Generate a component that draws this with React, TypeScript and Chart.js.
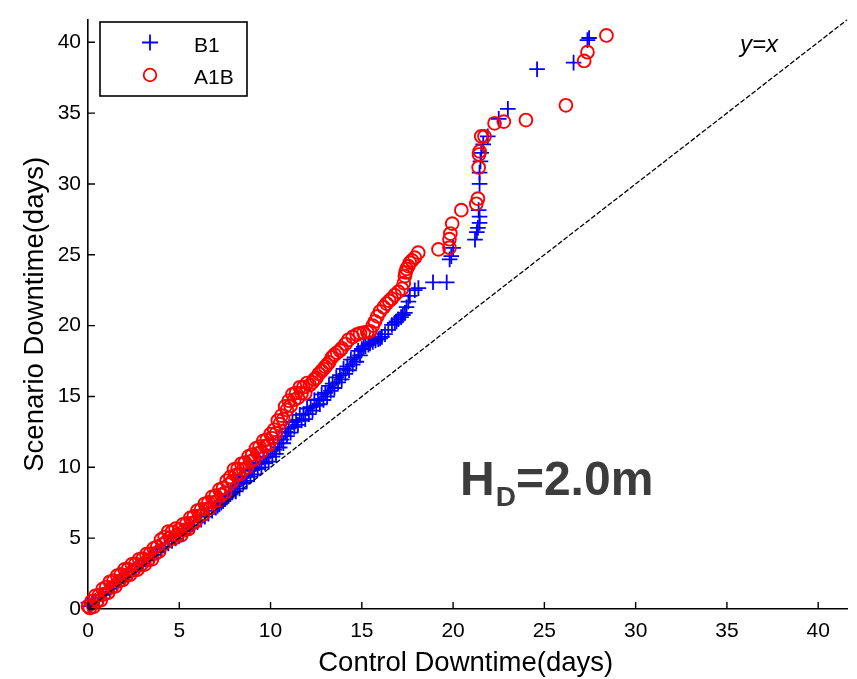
import React, { useEffect, useRef } from "react";
import { Chart, registerables } from "chart.js";

Chart.register(...registerables);

// B1 scenario (blue +)
const b1X = [0.02,0.1,0.2,0.4,0.6,0.8,1.0,1.2,1.4,1.6,1.8,2.0,2.2,2.4,2.6,2.8,3.0,3.2,3.4,3.6,3.8,4.0,4.2,4.4,4.6,4.8,5.0,5.2,5.4,5.6,5.8,6.0,6.2,6.4,6.6,6.8,7.0,
  7.1,7.2,7.3,7.4,7.5,7.6,7.7,7.8,7.9,8.0,8.1,8.2,8.3,8.4,8.5,8.6,8.7,8.8,8.9,9.0,9.1,9.2,9.3,9.4,9.5,9.6,9.7,9.8,9.9,
  10.0,10.1,10.2,10.3,10.4,10.5,10.6,10.7,10.8,10.9,11.0,11.1,11.2,11.3,11.4,11.5,11.6,11.7,11.8,11.9,
  12.0,12.1,12.2,12.3,12.4,12.5,12.6,12.7,12.8,12.9,13.0,13.1,13.2,13.3,13.4,13.5,13.6,13.7,13.8,13.9,
  14.0,14.1,14.2,14.3,14.4,14.5,14.6,14.7,14.8,14.9,15.0,15.1,15.2,15.36,15.45,15.6,15.75,15.9,16.0,16.1,16.27,16.45,16.65,16.8,16.9,17.0,17.15,17.25,17.36,17.45,17.55,17.63,17.9,18.1,
  18.9,19.65,19.81,19.9,20.0,21.2,21.3,21.36,21.45,21.45,21.4,21.45,21.45,21.5,21.54,21.65,21.9,22.5,23.0,24.6,26.6,27.36,27.45];
const b1Y = [0.45,0.2,0.38,0.6,0.8,1.0,1.2,1.42,1.62,1.82,2.02,2.22,2.42,2.62,2.82,3.02,3.22,3.42,3.62,3.82,4.02,4.22,4.42,4.62,4.8,4.98,5.15,5.33,5.52,5.71,5.9,6.12,6.31,6.52,6.72,6.93,7.15,
  7.27,7.38,7.5,7.62,7.75,7.87,7.99,8.1,8.22,8.65,8.3,8.8,8.5,9.25,8.9,9.37,9.05,9.75,9.35,9.82,9.5,10.25,9.9,10.35,10.0,10.7,10.3,10.75,10.4,
  11.12,10.75,11.25,10.95,11.7,11.4,11.95,11.7,12.5,12.2,12.75,12.45,13.2,12.85,13.33,13.0,13.7,13.3,13.75,13.4,
  14.15,13.75,14.25,14.0,14.75,14.35,14.8,14.45,15.15,14.75,15.25,15.0,15.75,15.4,15.9,15.6,16.35,16.0,16.5,16.2,
  16.95,16.6,17.12,16.85,17.6,17.25,17.75,17.45,18.22,17.9,18.35,18.5,18.55,18.65,18.75,18.85,18.95,19.05,19.1,19.2,19.4,19.7,20.05,20.2,20.3,20.45,20.6,20.75,20.9,21.3,21.7,22.1,22.5,22.65,
  23.06,23.06,24.68,24.9,25.49,26.07,26.6,26.9,27.25,27.7,28.15,30.0,30.8,31.6,32.2,32.8,33.36,34.6,35.3,38.1,38.56,40.15,40.3];

// A1B scenario (red o)
const a1bX = [0.0,0.1,0.2,0.3,0.4,0.5,0.6,0.7,0.8,0.9,1.0,1.1,1.2,1.3,1.4,1.5,1.6,1.7,1.8,1.9,
  2.0,2.1,2.2,2.3,2.4,2.5,2.6,2.7,2.8,2.9,3.0,3.1,3.2,3.3,3.4,3.5,3.6,3.7,3.8,3.9,
  4.0,4.1,4.2,4.3,4.4,4.5,4.6,4.7,4.8,4.9,5.0,5.1,5.2,5.3,5.4,5.5,5.6,5.7,5.8,5.9,
  6.0,6.1,6.2,6.3,6.4,6.5,6.6,6.7,6.8,6.9,7.0,7.1,7.2,7.3,7.4,7.5,7.6,7.7,7.8,7.9,
  8.0,8.1,8.2,8.3,8.4,8.5,8.6,8.7,8.8,8.9,9.0,9.1,9.2,9.3,9.4,9.5,9.6,9.7,9.8,9.9,
  10.0,10.1,10.2,10.3,10.4,10.5,10.6,10.7,10.8,10.9,11.0,11.1,11.2,11.3,11.4,11.5,11.6,11.7,11.8,11.9,12.0,
  12.15,12.3,12.4,12.5,12.65,12.8,12.9,13.0,13.1,13.2,13.36,13.5,13.65,13.8,13.9,14.1,14.27,14.5,14.72,14.9,15.1,15.3,15.45,15.6,15.72,15.85,
  16.0,16.2,16.36,16.5,16.63,16.8,17.0,17.2,17.3,17.36,17.4,17.45,17.55,17.63,17.75,17.9,18.09,
  19.2,19.8,19.8,19.85,19.95,20.45,21.27,21.36,21.4,21.42,21.45,21.54,21.72,22.27,22.78,23.99,26.18,27.18,27.36,28.4];
const a1bY = [0.2,0.07,0.55,0.15,0.93,0.55,0.98,0.62,1.4,1.05,1.55,1.15,1.92,1.53,2.0,1.6,2.35,1.97,2.44,2.05,
  2.8,2.38,2.82,2.42,3.15,2.75,3.18,2.77,3.51,3.11,3.55,3.13,3.87,3.47,3.91,3.5,4.28,3.92,4.4,4.08,
  4.9,4.57,5.08,4.75,5.47,5.04,5.45,4.98,5.67,5.21,5.6,5.2,5.97,5.58,6.04,5.65,6.43,6.06,6.54,6.17,
  6.95,6.57,7.04,6.66,7.43,7.05,7.52,7.14,7.91,7.53,8.0,7.63,8.42,8.05,8.54,8.2,9.05,8.77,9.32,9.02,
  9.85,9.45,9.9,9.5,10.25,9.85,10.34,9.98,10.77,10.41,10.9,10.54,11.33,10.97,11.46,11.1,11.87,11.49,11.96,11.58,
  12.35,12.05,12.65,12.4,13.3,13.05,13.65,13.4,14.3,14.05,14.7,14.35,15.15,14.77,15.25,14.9,15.65,15.23,15.65,15.22,15.95,
  15.8,16.0,16.2,16.3,16.6,16.8,16.95,17.1,17.25,17.4,17.75,17.95,18.1,18.25,18.4,18.7,19.0,19.2,19.36,19.45,19.5,19.55,19.6,20.0,20.3,20.65,
  21.0,21.3,21.56,21.75,21.9,22.15,22.4,22.6,23.0,23.5,23.75,24.0,24.2,24.45,24.6,24.8,25.15,
  25.38,25.5,26.1,26.5,27.2,28.15,28.6,28.96,31.16,32.08,32.3,33.36,33.36,34.28,34.4,34.51,35.55,38.68,39.3,40.48];

const axisMax = 41.6;
const tickValues = [0, 5, 10, 15, 20, 25, 30, 35, 40];
const seriesNames = ["B1", "A1B"];
const xTitle = "Control Downtime(days)";
const yTitle = "Scenario Downtime(days)";
const refLabel = "y=x";

const FONT = "'Liberation Sans', Arial, Helvetica, sans-serif";

const decorPlugin = {
  id: "decor",
  afterDatasetsDraw(chart: any) {
    const { ctx, chartArea, scales } = chart;
    const xs = scales.x;
    const ys = scales.y;
    ctx.save();
    // inward ticks
    ctx.strokeStyle = "#000";
    ctx.lineWidth = 1.4;
    ctx.beginPath();
    for (const v of tickValues) {
      const px = xs.getPixelForValue(v);
      ctx.moveTo(px, chartArea.bottom);
      ctx.lineTo(px, chartArea.bottom - 7);
      const py = ys.getPixelForValue(v);
      ctx.moveTo(chartArea.left, py);
      ctx.lineTo(chartArea.left + 7, py);
    }
    ctx.stroke();

    // legend box
    ctx.fillStyle = "#fff";
    ctx.fillRect(100, 22, 147, 74);
    ctx.lineWidth = 1.6;
    ctx.strokeStyle = "#000";
    ctx.strokeRect(100, 22, 147, 74);
    // B1 marker
    ctx.strokeStyle = "#0000ff";
    ctx.lineWidth = 1.8;
    ctx.beginPath();
    ctx.moveTo(142, 42.5);
    ctx.lineTo(158, 42.5);
    ctx.moveTo(150, 34.5);
    ctx.lineTo(150, 50.5);
    ctx.stroke();
    // A1B marker
    ctx.strokeStyle = "#ff0000";
    ctx.beginPath();
    ctx.arc(150, 75, 6.3, 0, Math.PI * 2);
    ctx.stroke();
    ctx.fillStyle = "#000";
    ctx.font = `21px ${FONT}`;
    ctx.textBaseline = "alphabetic";
    ctx.textAlign = "left";
    ctx.fillText(seriesNames[0], 194, 52);
    ctx.fillText(seriesNames[1], 194, 83.5);

    // y=x label
    ctx.font = `italic 24px ${FONT}`;
    ctx.fillText(refLabel, 740, 52);

    // H_D=2.0m
    ctx.fillStyle = "#3c3c3c";
    ctx.font = `bold 48px ${FONT}`;
    let x0 = 460;
    ctx.fillText("H", x0, 495);
    x0 += ctx.measureText("H").width;
    ctx.font = `bold 28px ${FONT}`;
    ctx.fillText("D", x0 + 1, 506);
    x0 += ctx.measureText("D").width + 1;
    ctx.font = `bold 48px ${FONT}`;
    ctx.fillText("=2.0m", x0, 495);

    // axis titles
    ctx.fillStyle = "#000";
    ctx.font = `27.5px ${FONT}`;
    ctx.textAlign = "center";
    ctx.fillText(xTitle, (chartArea.left + chartArea.right) / 2 - 2, 671);
    ctx.translate(43, (chartArea.top + chartArea.bottom) / 2);
    ctx.rotate(-Math.PI / 2);
    ctx.fillText(yTitle, 0, 0);
    ctx.restore();
  },
};

export default function App() {
  const ref = useRef<HTMLCanvasElement | null>(null);
  useEffect(() => {
    document.body.style.margin = "0";
    const canvas = ref.current!;
    const chart = new Chart(canvas, {
      type: "scatter",
      data: {
        datasets: [
          {
            type: "line",
            label: "y=x",
            data: [
              { x: 0, y: 0 },
              { x: axisMax, y: axisMax },
            ],
            borderColor: "#000",
            borderWidth: 1.3,
            borderDash: [5, 2],
            pointRadius: 0,
            fill: false,
            order: 0,
          } as any,
          {
            label: seriesNames[1],
            data: a1bX.map((x, i) => ({ x, y: a1bY[i] })),
            pointStyle: "circle",
            pointRadius: 6.4,
            pointBorderWidth: 1.9,
            borderColor: "#ff0000",
            backgroundColor: "rgba(0,0,0,0)",
            order: 1,
            clip: false,
          } as any,
          {
            label: seriesNames[0],
            data: b1X.map((x, i) => ({ x, y: b1Y[i] })),
            pointStyle: "cross",
            pointRadius: 7.8,
            pointBorderWidth: 1.8,
            borderColor: "#0000ff",
            backgroundColor: "#0000ff",
            order: 2,
            clip: false,
          } as any,
        ],
      },
      options: {
        responsive: false,
        animation: false,
        events: [],
        layout: { padding: { top: 9, right: 7, left: 0, bottom: 0 } },
        plugins: { legend: { display: false }, tooltip: { enabled: false } },
        scales: {
          x: {
            type: "linear",
            min: 0,
            max: axisMax,
            grid: { display: false, drawTicks: false },
            border: { display: true, color: "#000", width: 1.6 },
            afterBuildTicks: (s: any) => {
              s.ticks = tickValues.map((v) => ({ value: v }));
            },
            afterFit: (s: any) => {
              s.height = 70;
            },
            ticks: {
              color: "#000",
              font: { family: FONT, size: 21 },
              padding: 10,
              maxRotation: 0,
            },
          },
          y: {
            type: "linear",
            min: 0,
            max: axisMax,
            grid: { display: false, drawTicks: false },
            border: { display: true, color: "#000", width: 1.6 },
            afterBuildTicks: (s: any) => {
              s.ticks = tickValues.map((v) => ({ value: v }));
            },
            afterFit: (s: any) => {
              s.width = 88;
            },
            ticks: {
              color: "#000",
              font: { family: FONT, size: 21 },
              padding: 7,
            },
          },
        },
      },
      plugins: [decorPlugin],
    });
    return () => chart.destroy();
  }, []);
  return (
    <div style={{ width: 857, height: 679, background: "#fff" }}>
      <canvas ref={ref} width={857} height={679} style={{ display: "block" }} />
    </div>
  );
}
